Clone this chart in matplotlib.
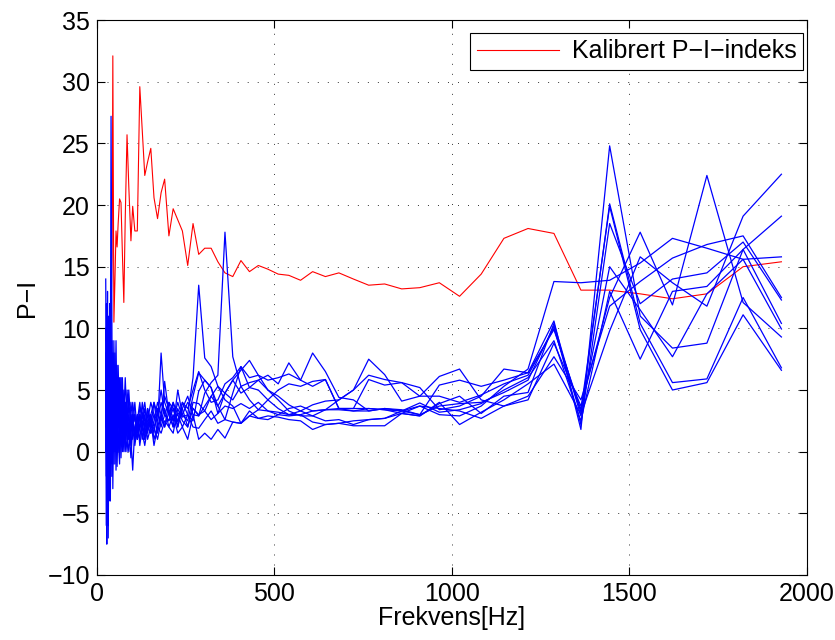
import matplotlib
matplotlib.use("Agg")
import matplotlib.pyplot as plt
import numpy as np

# 1/12-octave band centres [Hz]
freq = [25, 27, 28, 30, 32, 34, 36, 38, 40, 43, 45, 48, 51, 54, 57, 60, 64, 68,
        72, 76, 80, 85, 90, 96, 101, 107, 114, 121, 128, 135, 143, 152, 161, 171,
        181, 191, 203, 215, 228, 241, 256, 271,
        287, 304, 322, 341, 361, 383, 406, 430, 455, 482, 511, 541, 574, 608,
        644, 682, 723, 766, 811, 859, 910,
        965, 1022, 1083, 1147, 1215, 1288, 1364, 1445, 1531, 1622, 1719, 1821, 1929]

# calibrated P-I index
pi_cal = [9, 10, 8.5, 11, 9, 8, 10, 12, 11, 16, 32.1, 10.5, 14, 17.9, 16.6, 18.5,
          20.5, 20.2, 16, 12.1, 19, 25.7, 21.5, 17.1, 19.9, 17.9, 17.9, 29.6, 26,
          22.4, 23.5, 24.6, 20.6, 18.9, 21.0, 22.1, 17.5, 19.7, 18.8, 17.9, 15.1, 18.5,
          16.0, 16.5, 16.5, 15.4, 14.5, 14.2, 15.5, 14.6, 15.1, 14.8, 14.4, 14.3,
          13.9, 14.6, 14.2, 14.5, 14.0, 13.5, 13.6, 13.2, 13.3,
          13.7, 12.6, 14.4, 17.3, 18.1, 17.7, 13.1, 13.1, 12.8, 12.4, 12.8, 15.0, 15.4]

# measured P-I for each measurement
meas_1 = [4, 8, -3, 6, 1, 10, -2, 5, 27.2, 6, 2, 8, 0, 5, 3, 6, 1, 4, 2, 5, 1, 3,
          2, 0.5, 2, 1.5, 3, 2, 2.5, 1, 3.5, 2, 4, 3, 5, 3, 2.5, 4, 3, 3.5, 2, 4,
          3.9, 3.3, 4.5, 3.7, 4.75, 5.8, 6.6, 7.4, 6.2, 5.0, 4.5, 3.8, 3.3, 2.9,
          3.4, 3.5, 3.3, 3.5, 3.4, 3.3, 3.7,
          3.0, 2.9, 3.7, 5.3, 6.7, 13.8, 13.7, 13.9, 15.3, 17.3, 16.5, 15.6, 15.8]
meas_2 = [14, 2, -7.5, 9, 3, -4, 7, 2, 11, -1, 4, 6, -1, 3, 5, 2, 4, -0.5, 3, 1,
          4, 2, 3, 1, -1.5, 2, 1, 3, 2, 3.5, 2, 1.5, 2.5, 4, 3, 2, 3.2, 2.5, 4, 2.8,
          3, 6.0,
          13.5, 7.6, 6.9, 5.3, 4.2, 3.7, 2.3, 3.3, 2.7, 2.6, 3.0, 3.5, 3.7, 3.3,
          3.4, 4.2, 5.0, 6.2, 5.85, 5.6, 5.2,
          3.4, 3.7, 4.5, 6.7, 6.4, 10.6, 1.8, 24.8, 11.0, 8.4, 8.8, 16.4, 10.4]
meas_3 = [6, -6, 12, 1, 8, -2, 4, 10, 3, 7, -3, 5, 2, 7, 1, 4, 3, 6, 1, 2, 0, 3,
          4, 2, 3, 0.5, 2, 1, 3, 2.5, 1.5, 3, 2, 1, 2.5, 5.7, 3, 4, 2, 3.5, 4.5, 3,
          2.9, 4.75, 5.6, 6.2, 17.8, 7.7, 5.3, 4.2, 3.4, 3.3, 3.0, 2.9, 3.0, 2.4,
          2.2, 2.3, 2.5, 2.6, 2.7, 3.1, 2.9,
          3.9, 4.5, 3.1, 4.5, 4.8, 10.4, 2.9, 20.1, 10.4, 5.6, 5.9, 12.5, 6.8]
meas_4 = [2, 12, 5, -5, 10, 4, -1, 8, 2, 9, 1, 3, 6, -1.5, 4, 7, 2, 5, 3, 0, 2,
          4, 1, 3, 2, 4, 1.5, 3, 1, 2, 3.5, 2.5, 0.5, 2, 8.0, 4, 3, 2, 5, 3, 2.5, 4.5,
          6.4, 5.8, 5.2, 3.1, 4.75, 4.2, 5.3, 5.6, 5.8, 6.2, 5.5, 7.2, 5.8, 8.0,
          6.5, 4.4, 4.2, 3.3, 3.5, 3.4, 3.0,
          5.4, 5.8, 5.3, 5.8, 6.4, 9.9, 3.4, 19.9, 9.9, 5.0, 5.6, 11.1, 6.6]
meas_5 = [8, -2, 4, 13, -6, 6, 9, 0, 5, 2, 8, -1, 4, 2, -1.2, 3, 5, 1, 4, 2, 3,
          1, 5, 2, 3, 1, 2.5, 4, 2, 3, 1, 2, 3, 2.5, 4, 3, 2.5, 3.5, 2, 4, 3, 2.5,
          4.9, 5.8, 5.2, 3.7, 2.6, 4.75, 6.9, 5.2, 5.0, 4.2, 3.5, 3.0, 3.3, 3.8,
          4.1, 4.2, 5.0, 7.5, 6.25, 4.1, 4.5,
          6.1, 6.7, 4.2, 3.7, 4.2, 8.8, 3.7, 12.5, 17.8, 11.9, 22.4, 12.1, 9.3]
meas_6 = [0, 5, 9, -3, 4, 11, 1, -4, 6, 3, 0, 4, 7, 1, 2, 5, 0, 3, 1.5, 4, 2, 0,
          2, 3, 1, 2, 3, 0.5, 2, 1, 2, 2.5, 1.5, 3.5, 2, 3, 4, 2.5, 3, 2, 3, 2,
          1.9, 2.6, 3.3, 2.3, 2.6, 2.4, 2.3, 2.9, 3.4, 4.2, 5.0, 5.5, 5.3, 5.7,
          5.85, 3.5, 3.5, 3.5, 3.4, 3.1, 3.7,
          3.5, 3.3, 2.7, 3.7, 4.5, 7.7, 4.2, 11.8, 13.8, 15.7, 16.8, 17.5, 12.5]
meas_7 = [10, 0, 6, 3, -7, 2, 8, 4, -2, 5, 7, 1, 3, 9, 2, 0, 4, 2, 6, 1, 3, 1.5,
          0, 2, 3, 1, 2, 3, 1.5, 0.5, 2, 3, 1, 2, 1.5, 2.5, 2, 3, 1.5, 2, 1, 3,
          1.0, 1.5, 1.0, 1.8, 1.1, 2.4, 2.3, 2.9, 2.7, 2.9, 2.8, 2.6, 2.5, 1.8,
          2.2, 2.3, 2.1, 2.1, 2.1, 3.1, 2.9,
          4.0, 2.2, 3.2, 4.2, 5.5, 7.1, 3.0, 9.8, 15.8, 13.7, 11.8, 19.1, 22.5]
meas_8 = [5, 3, -1, 7, 2, 0, 12, 3, 6, -2, 3, 9, 1, 4, 6, 1, -1, 4, 2, 3, 6, 2,
          1, 4, 2.5, 3, 1, 2, 4, 2, 3, 1.5, 2, 3, 2.5, 3.5, 2, 1.5, 3.5, 2.5, 2, 3.5,
          2.9, 3.7, 4.5, 5.3, 4.75, 5.8, 4.75, 5.2, 5.8, 5.0, 4.2, 3.3, 2.9, 2.9,
          2.5, 2.6, 2.2, 2.6, 2.7, 3.3, 3.95,
          3.2, 3.4, 3.9, 5.0, 6.0, 9.0, 2.5, 13.0, 7.5, 13.0, 13.4, 16.4, 19.1]
meas_9 = [7, 4, 2, -2, 5, 8, 3, 1, 9, 4, 5, 2, 8, 0, 3, 4, 6, 2, 4, 3, 1, 5, 3,
          1, 4, 2.5, 2, 3.5, 3, 4, 2, 3, 4, 2, 3, 4.5, 3.5, 2, 2.5, 4, 3.5, 5,
          6.5, 5.0, 4.0, 4.2, 5.5, 6.0, 6.9, 6.0, 6.2, 5.8, 6.0, 6.3, 5.8, 5.3,
          5.85, 3.5, 3.5, 5.85, 5.4, 5.6, 4.5,
          4.5, 4.0, 4.6, 5.5, 6.2, 10.0, 3.2, 15.0, 11.5, 7.7, 12.8, 15.6, 9.95]
meas_10 = [3, 10, -4, 5, 8, 2, 6, -1, 4, 8, 2, 0, 5, 3, 7, 2, 3, 6, 0, 2, 4, 3,
           2, -0.5, 2, 3, 1, 2, 3, 1.5, 2.5, 4, 3, 1.5, 3, 2, 4, 3.5, 2.5, 3, 4, 3.5,
           3.0, 3.3, 2.6, 3.1, 3.7, 3.5, 3.9, 3.5, 4.0, 3.3, 3.2, 3.0, 3.0, 3.3,
           3.4, 3.4, 3.3, 3.3, 3.5, 3.3, 3.0,
           3.7, 3.9, 4.0, 4.8, 5.8, 10.2, 2.2, 18.5, 12.0, 14.0, 14.5, 17.0, 12.3]

measurements = [meas_1, meas_2, meas_3, meas_4, meas_5,
                meas_6, meas_7, meas_8, meas_9, meas_10]

plt.rcParams['font.family'] = ['Liberation Sans', 'DejaVu Sans']
plt.rcParams['font.size'] = 18

fig = plt.figure(figsize=(8.35, 6.4), dpi=100)
ax = fig.add_axes([0.116, 0.1016, 0.850, 0.867])

ax.plot(freq, pi_cal, color='r', lw=0.8, label='Kalibrert P\u2212I\u2212indeks')
for m in measurements:
    ax.plot(freq, m, color='b', lw=0.9)

ax.set_xlim(0, 2000)
ax.set_ylim(-10, 35)
ax.set_xticks(np.arange(0, 2001, 500))
ax.set_yticks(np.arange(-10, 36, 5))
ax.grid(True, color='#333333', linestyle=(0, (1, 9.3)), lw=0.7)
ax.tick_params(direction='in', top=True, right=True, length=6, width=0.8,
               pad=5)
for s in ax.spines.values():
    s.set_linewidth(0.8)

ax.set_xlabel('Frekvens[Hz]', labelpad=0)
ax.set_ylabel('P\u2212I', labelpad=6)

leg = ax.legend(loc='upper right', bbox_to_anchor=(0.9944, 0.9766),
                fancybox=False, edgecolor='k', framealpha=1,
                handlelength=3.3, handletextpad=0.5,
                borderpad=0.25, borderaxespad=0)
leg.get_frame().set_linewidth(0.8)

fig.savefig('out.png', dpi=100)
